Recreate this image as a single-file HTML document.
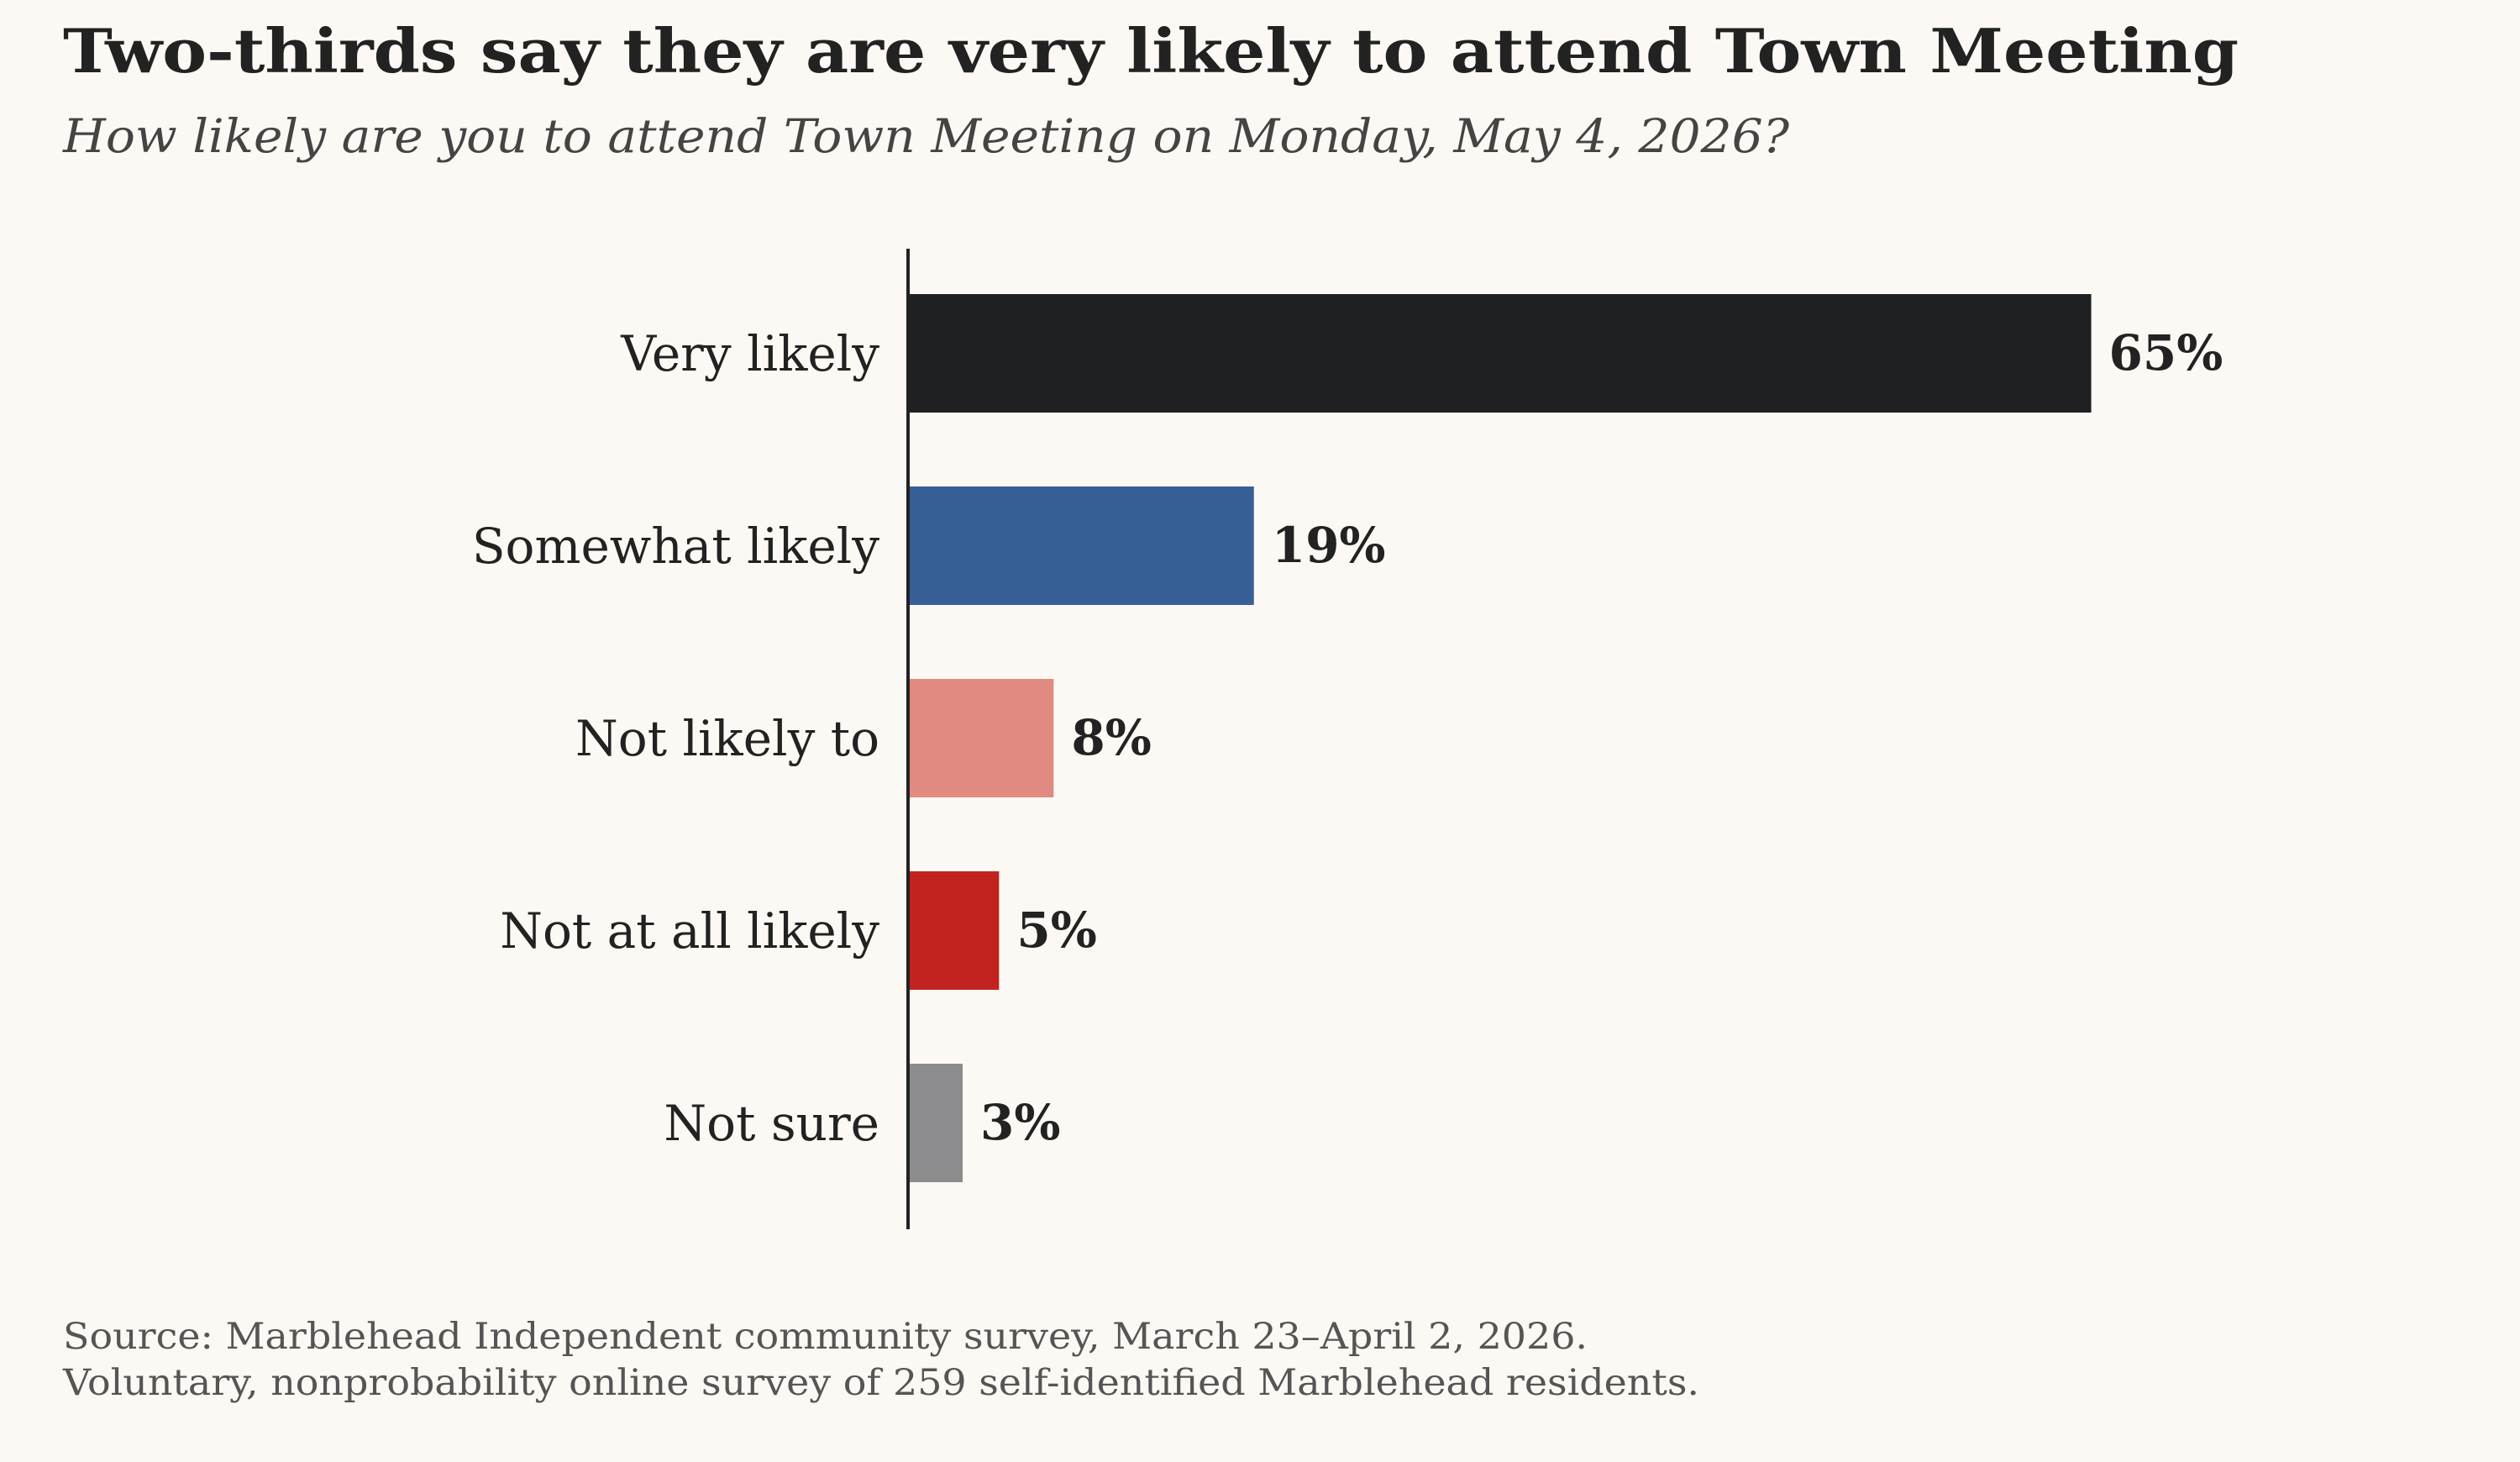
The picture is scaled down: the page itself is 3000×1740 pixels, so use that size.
<!DOCTYPE html>
<html><head><meta charset="utf-8"><style>
html,body{margin:0;padding:0;background:#fcf9f4;}
svg{display:block;font-family:"DejaVu Serif","Liberation Serif",serif;}
</style></head><body>
<svg id="chart" width="3000" height="1740" viewBox="0 0 3000 1740">
<rect width="3000" height="1740" fill="#fcf9f4"/>
<text x="75" y="86" font-size="72" font-weight="bold" fill="#222" textLength="2590" lengthAdjust="spacingAndGlyphs">Two-thirds say they are very likely to attend Town Meeting</text>
<text x="75" y="181" font-size="55" font-style="italic" fill="#444" textLength="2055" lengthAdjust="spacingAndGlyphs">How likely are you to attend Town Meeting on Monday, May 4, 2026?</text>
<g id="bars"></g>
<line x1="1081" y1="296" x2="1081" y2="1463" stroke="#222" stroke-width="4"/>
<text x="75" y="1605" font-size="43" fill="#555" textLength="1815" lengthAdjust="spacingAndGlyphs">Source: Marblehead Independent community survey, March 23–April 2, 2026.</text>
<text x="75" y="1660" font-size="43" fill="#555" textLength="1948" lengthAdjust="spacingAndGlyphs">Voluntary, nonprobability online survey of 259 self-identified Marblehead residents.</text>
</svg>
<script>
const categories = ["Very likely","Somewhat likely","Not likely to","Not at all likely","Not sure"];
const values = [65,19,8,5,3];
const valueLabels = ["65%","19%","8%","5%","3%"];
const colors = ["#1f2022","#375f97","#e08a82","#c2231f","#8c8c8e"];
const NS="http://www.w3.org/2000/svg";
const x0=1081, pxPerUnit=21.67;
function xScale(v){return x0+v*pxPerUnit;}
function yCenter(i){return 420+i*229;}
const g=document.getElementById('bars');
categories.forEach((c,i)=>{
  const cy=yCenter(i);
  const r=document.createElementNS(NS,'rect');
  r.setAttribute('x',x0);r.setAttribute('y',cy-70);
  r.setAttribute('width',xScale(values[i])-x0);r.setAttribute('height',141);
  r.setAttribute('fill',colors[i]);
  
  
  g.appendChild(r);
  const l=document.createElementNS(NS,'text');
  l.setAttribute('x',1047);l.setAttribute('y',cy+21);
  l.setAttribute('text-anchor','end');l.setAttribute('font-size','58');l.setAttribute('fill','#222');
  l.textContent=c;
  
  
  g.appendChild(l);
  const v=document.createElementNS(NS,'text');
  v.setAttribute('x',xScale(values[i])+21);v.setAttribute('y',cy+20);
  v.setAttribute('font-size','58');v.setAttribute('font-weight','bold');v.setAttribute('fill','#222');
  v.textContent=valueLabels[i];
  
  
  g.appendChild(v);
});
</script>
</body></html>
